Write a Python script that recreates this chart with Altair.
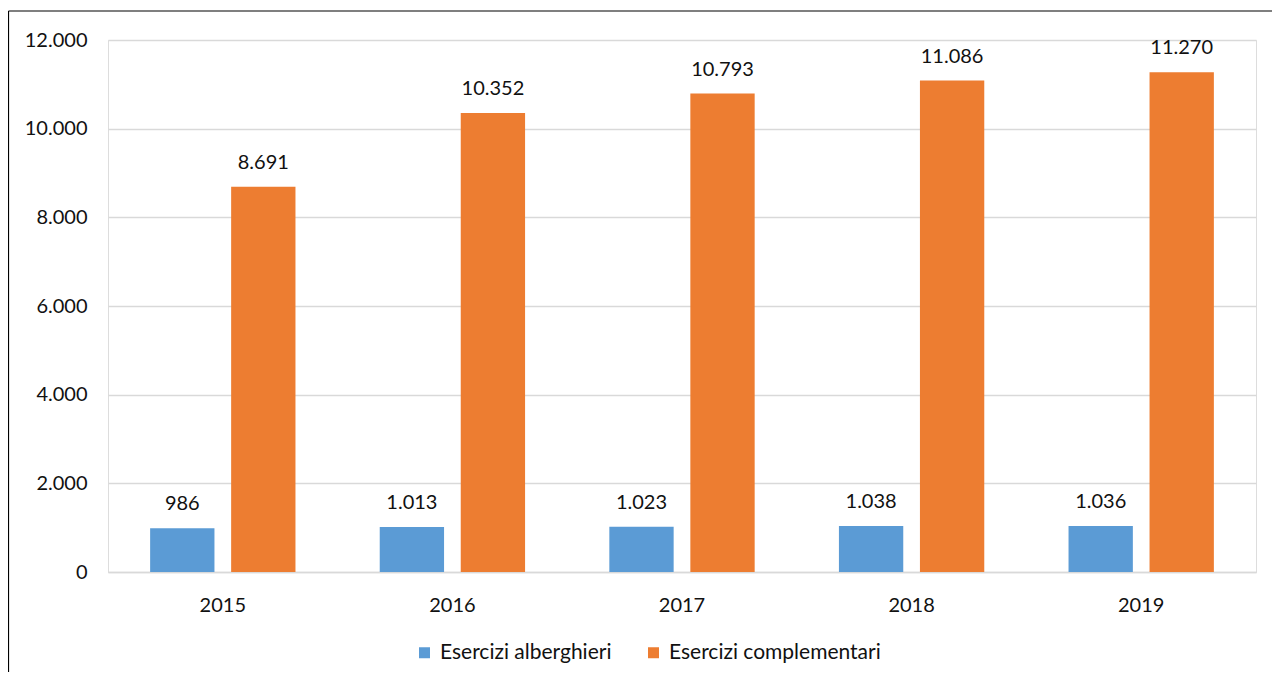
import altair as alt
import pandas as pd

years = ["2015", "2016", "2017", "2018", "2019"]
series_names = ["Esercizi alberghieri", "Esercizi complementari"]
alberghieri = [986, 1013, 1023, 1038, 1036]
complementari = [8691, 10352, 10793, 11086, 11270]
y_ticks = [0, 2000, 4000, 6000, 8000, 10000, 12000]
colors = ["#5B9BD5", "#ED7D31"]

rows = []
for i, yr in enumerate(years):
    for name, vals in zip(series_names, [alberghieri, complementari]):
        v = vals[i]
        rows.append({"anno": yr, "serie": name, "valore": v,
                     "label": f"{v:,}".replace(",", ".")})
df = pd.DataFrame(rows)

FONT = "Lato"

x_enc = alt.X("anno:N", title=None,
              scale=alt.Scale(paddingInner=0.367, paddingOuter=0.1835),
              axis=alt.Axis(labelAngle=0, ticks=False, domain=True,
                            domainColor="#d9d9d9", domainWidth=1.3,
                            labelFont=FONT, labelFontSize=20,
                            labelColor="#111111", labelPadding=23, grid=False))
xoff = alt.XOffset("serie:N", scale=alt.Scale(paddingInner=0.206, paddingOuter=0))
y_enc = alt.Y("valore:Q", title=None,
              scale=alt.Scale(domain=[0, 12000], nice=False),
              axis=alt.Axis(values=y_ticks, ticks=False, domain=False,
                            gridColor="#d9d9d9", gridWidth=1.3,
                            labelFont=FONT, labelFontSize=20,
                            labelColor="#111111", labelPadding=21,
                            labelExpr="replace(format(datum.value, ','), ',', '.')"))

base = alt.Chart(df)

bars = base.mark_bar().encode(
    x=x_enc, xOffset=xoff, y=y_enc,
    color=alt.Color("serie:N", title=None,
                    scale=alt.Scale(domain=series_names, range=colors),
                    legend=alt.Legend(orient="none", legendX=306, legendY=602,
                                      direction="horizontal",
                                      symbolType="square", symbolSize=121,
                                      symbolStrokeWidth=0, labelFont=FONT,
                                      labelFontSize=21, labelColor="#111111",
                                      labelOffset=5, columnPadding=31,
                                      labelLimit=500)),
)

labels = base.mark_text(font=FONT, fontSize=20, color="#111111",
                        baseline="alphabetic", dy=-18).encode(
    x=x_enc, xOffset=xoff, y=y_enc, text="label:N"
)

frame_df = pd.DataFrame({"a": [0]})
left_line = alt.Chart(frame_df).mark_rule(color="#000000", strokeWidth=1.2).encode(
    x=alt.value(-99.5), y=alt.value(-29), y2=alt.value(650))
top_line = alt.Chart(frame_df).mark_rule(color="#000000", strokeWidth=1.2).encode(
    x=alt.value(-99.5), x2=alt.value(1180), y=alt.value(-29))

chart = alt.layer(left_line, top_line, bars, labels).properties(
    width=1148, height=532,
    autosize=alt.AutoSizeParams(type="none"),
    padding={"left": 100, "top": 32, "right": 16, "bottom": 100},
).configure_view(stroke=None).configure(background="white")

chart.save("out.html", embed_options={"renderer": "svg", "actions": False})
